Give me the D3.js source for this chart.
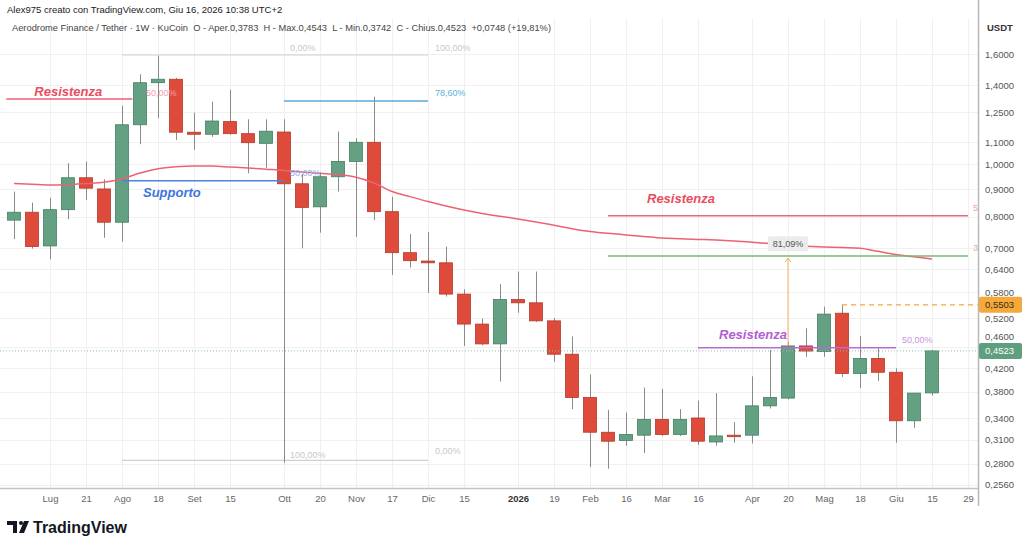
<!DOCTYPE html>
<html>
<head>
<meta charset="utf-8">
<script src="https://cdn.jsdelivr.net/npm/d3@7"></script>
<style>
body{margin:0;background:#fff;font-family:"Liberation Sans",Arial,sans-serif}
</style>
</head>
<body>
<div id="chart"></div>
<script>
// weekly candles AERO/USDT (KuCoin)
const weeks = ["2025-06-23","2025-06-30","2025-07-07","2025-07-14","2025-07-21","2025-07-28","2025-08-04","2025-08-11","2025-08-18","2025-08-25",
	"2025-09-01","2025-09-08","2025-09-15","2025-09-22","2025-09-29","2025-10-06","2025-10-13","2025-10-20","2025-10-27","2025-11-03",
	"2025-11-10","2025-11-17","2025-11-24","2025-12-01","2025-12-08","2025-12-15","2025-12-22","2025-12-29","2026-01-05","2026-01-12",
	"2026-01-19","2026-01-26","2026-02-02","2026-02-09","2026-02-16","2026-02-23","2026-03-02","2026-03-09","2026-03-16","2026-03-23",
	"2026-03-30","2026-04-06","2026-04-13","2026-04-20","2026-04-27","2026-05-04","2026-05-11","2026-05-18","2026-05-25","2026-06-01",
	"2026-06-08","2026-06-15"]
const open  = [0.789,0.816,0.707,0.825,0.945,0.901,0.782,1.184,1.416,1.437,1.147,1.137,1.200,1.140,1.094,1.148,0.921,0.835,0.949,1.013,
	1.099,0.818,0.687,0.663,0.658,0.576,0.507,0.466,0.563,0.555,0.514,0.446,0.371,0.320,0.309,0.316,0.338,0.317,0.340,0.307,
	0.316,0.316,0.358,0.370,0.462,0.451,0.531,0.411,0.438,0.413,0.336,0.3783]
const high  = [0.891,0.850,0.868,1.005,1.012,0.939,1.284,1.468,1.588,1.445,1.246,1.306,1.374,1.212,1.212,1.212,0.960,0.966,1.150,1.118,
	1.334,0.872,0.744,0.750,0.705,0.588,0.519,0.601,0.634,0.634,0.520,0.481,0.409,0.352,0.348,0.387,0.385,0.353,0.366,0.378,
	0.334,0.406,0.454,0.470,0.498,0.546,0.5503,0.482,0.459,0.420,0.378,0.4543]
const low   = [0.728,0.699,0.668,0.792,0.860,0.732,0.720,1.090,1.217,1.110,1.064,1.125,1.135,0.963,0.986,0.281,0.700,0.748,0.891,0.735,
	0.789,0.625,0.645,0.579,0.570,0.462,0.463,0.397,0.532,0.512,0.432,0.353,0.276,0.274,0.302,0.293,0.315,0.315,0.303,0.302,
	0.306,0.305,0.354,0.368,0.441,0.441,0.405,0.386,0.398,0.306,0.326,0.3742]
const close = [0.816,0.705,0.825,0.945,0.904,0.782,1.184,1.416,1.437,1.147,1.137,1.203,1.140,1.097,1.152,0.921,0.833,0.949,1.013,1.099,
	0.818,0.687,0.664,0.658,0.576,0.507,0.466,0.563,0.555,0.514,0.446,0.371,0.320,0.308,0.317,0.338,0.317,0.338,0.308,0.315,
	0.315,0.358,0.371,0.462,0.452,0.529,0.411,0.438,0.413,0.336,0.378,0.4523]
// moving average (red line)
const ma = [0.922,0.919,0.916,0.918,0.922,0.927,0.940,0.964,0.982,0.990,0.993,0.993,0.989,0.985,0.980,0.975,0.968,0.963,0.958,0.947,
	0.924,0.891,0.872,0.854,0.838,0.824,0.812,0.802,0.793,0.783,0.772,0.761,0.752,0.746,0.741,0.736,0.731,0.729,0.727,0.725,
	0.722,0.718,0.714,0.710,0.706,0.704,0.702,0.700,0.691,0.682,0.675,0.669]

const yTicks = [1.6,1.4,1.25,1.1,1.0,0.9,0.8,0.7,0.64,0.58,0.52,0.46,0.42,0.38,0.34,0.31,0.28,0.256]
const xTickDates = ["2025-07-07","2025-07-21","2025-08-04","2025-08-18","2025-09-01","2025-09-15","2025-10-06","2025-10-20","2025-11-03","2025-11-17",
	"2025-12-01","2025-12-15","2026-01-05","2026-01-19","2026-02-02","2026-02-16","2026-03-02","2026-03-16","2026-04-06","2026-04-20",
	"2026-05-04","2026-05-18","2026-06-01","2026-06-15","2026-06-29"]
const xTickLabels = ["Lug","21","Ago","18","Set","15","Ott","20","Nov","17","Dic","15","2026","19","Feb","16","Mar","16","Apr","20","Mag","18","Giu","15","29"]

const lastPrice = 0.4523
const markPrice = 0.5503

const parse = d3.utcParse("%Y-%m-%d")
const fmt = v => d3.format(".4f")(v).replace(".", ",")

const svgWidth = 1024, svgHeight = 546
const plotRight = 978, plotTop = 18, plotBottom = 488

const svg = d3.select("#chart").append("svg")
	.attr("width", svgWidth)
	.attr("height", svgHeight)
	.style("display", "block")

svg.append("rect").attr("width", svgWidth).attr("height", svgHeight).attr("fill", "#fff")

const x = d3.scaleUtc()
	.domain([parse("2025-06-23"), parse("2026-06-29")])
	.range([14, 968])
const y = d3.scaleLog()
	.domain([0.2524, 1.8648])
	.range([plotBottom, plotTop])

svg.append("clipPath").attr("id", "plot")
	.append("rect").attr("x", 0).attr("y", plotTop).attr("width", plotRight).attr("height", plotBottom - plotTop)

// grid
const grid = svg.append("g")
grid.selectAll("line.h").data(yTicks).enter().append("line")
	.attr("x1", 0).attr("x2", plotRight)
	.attr("y1", d => Math.round(y(d)) + 0.5).attr("y2", d => Math.round(y(d)) + 0.5)
	.attr("stroke", "#f0f0f0")
grid.selectAll("line.v").data(xTickDates).enter().append("line")
	.attr("x1", d => Math.round(x(parse(d))) + 0.5).attr("x2", d => Math.round(x(parse(d))) + 0.5)
	.attr("y1", plotTop).attr("y2", plotBottom)
	.attr("stroke", "#f0f0f0")

const g = svg.append("g").attr("clip-path", "url(#plot)")

// helper for annotation lines
function hline(d0, d1, v, color, width, dash){
	const l = g.append("line")
		.attr("x1", x(parse(d0))).attr("x2", x(parse(d1)))
		.attr("y1", y(v)).attr("y2", y(v))
		.attr("stroke", color).attr("stroke-width", width || 1.5)
	if (dash) l.attr("stroke-dasharray", dash)
	return l
}
function label(xp, yp, txt, color, size, weight, style, anchor){
	return svg.append("text")
		.attr("x", xp).attr("y", yp)
		.attr("fill", color)
		.attr("font-size", size + "px")
		.attr("font-weight", weight || "normal")
		.attr("font-style", style || "normal")
		.attr("text-anchor", anchor || "start")
		.text(txt)
}

// fibonacci drawings
hline("2025-08-04", "2025-12-01", 1.593, "#d0d0d0", 1.2)
hline("2025-08-04", "2025-12-01", 0.284, "#d0d0d0", 1.2)
label(x(parse("2025-10-06")) + 6, y(1.593) - 4, "0,00%", "#c8c8c8", 9)
label(x(parse("2025-12-01")) + 7, y(1.593) - 4, "100,00%", "#c8c8c8", 9)
label(x(parse("2025-10-06")) + 6, y(0.284) - 2, "100,00%", "#c8c8c8", 9)
label(x(parse("2025-12-01")) + 7, y(0.284) - 6, "0,00%", "#c8c8c8", 9)

// candles
const candles = weeks.map((w, i) => ({date: parse(w), o: open[i], h: high[i], l: low[i], c: close[i]}))
const bw = 14
let cg = g.selectAll("g.candle").data(candles).enter().append("g")
cg.append("line")
	.attr("x1", d => Math.round(x(d.date)) + 0.5).attr("x2", d => Math.round(x(d.date)) + 0.5)
	.attr("y1", d => y(d.h)).attr("y2", d => y(d.l))
	.attr("stroke", "#8a8a8a").attr("stroke-width", 1)
cg.append("rect")
	.attr("x", d => Math.round(x(d.date)) - bw/2 + 0.5)
	.attr("y", d => y(Math.max(d.o, d.c)))
	.attr("width", bw - 1)
	.attr("height", d => Math.max(1.5, Math.abs(y(d.o) - y(d.c))))
	.attr("fill", d => d.c >= d.o ? "#64a183" : "#df4b3b")
	.attr("stroke", d => d.c >= d.o ? "#467f63" : "#b43a2c")
	.attr("stroke-width", 0.8)

// moving average
g.append("path")
	.datum(weeks)
	.attr("fill", "none")
	.attr("stroke", "#ee6270")
	.attr("stroke-width", 1.5)
	.attr("d", d3.line().curve(d3.curveMonotoneX)
		.x(d => x(parse(d)))
		.y((d, i) => y(ma[i])))

// support / resistance drawings
hline("2025-06-20", "2025-08-08", 1.321, "#ef6170", 1.5)
label(x(parse("2025-06-20")) + 28, y(1.321) - 3, "Resistenza", "#ec4d5e", 13, "bold", "italic")
label(x(parse("2025-08-04")) + 24, y(1.321) - 3, "50,00%", "#f2a0a8", 9)

hline("2025-08-04", "2025-10-06", 0.933, "#4a82e0", 1.5)
label(x(parse("2025-08-04")) + 21, y(0.933) + 16, "Supporto", "#3a76df", 13, "bold", "italic")
label(x(parse("2025-10-06")) + 6, y(0.933) - 5, "50,00%", "#93aef0", 9)

hline("2025-10-06", "2025-12-01", 1.31, "#5aa6dd", 1.5)
label(x(parse("2025-12-01")) + 7, y(1.31) - 5, "78,60%", "#5ab0e0", 9)

hline("2026-02-09", "2026-06-29", 0.804, "#ec6a78", 1.5)
label(x(parse("2026-02-09")) + 39, y(0.804) - 13, "Resistenza", "#ec4d5e", 13, "bold", "italic")
label(973, y(0.804) - 5, "5", "#f0a0a8", 9)

hline("2026-02-09", "2026-06-29", 0.677, "#74bb74", 1.5)
label(973, y(0.677) - 5, "3", "#bbbbbb", 9)

hline("2026-03-16", "2026-06-01", 0.4586, "#b96ad6", 1.5)
label(x(parse("2026-03-16")) + 21, y(0.4586) - 9, "Resistenza", "#b35ed2", 13, "bold", "italic")
label(x(parse("2026-06-01")) + 6, y(0.4586) - 5, "50,00%", "#c895e0", 9)

// price range measure
const mx = x(parse("2026-04-20"))
g.append("line").attr("x1", mx).attr("x2", mx).attr("y1", y(0.671)).attr("y2", y(0.462))
	.attr("stroke", "#f5b060").attr("stroke-width", 1)
g.append("path")
	.attr("d", `M${mx - 3},${y(0.671) + 4}L${mx},${y(0.671)}L${mx + 3},${y(0.671) + 4}`)
	.attr("fill", "none").attr("stroke", "#f5b060").attr("stroke-width", 1)
svg.append("rect").attr("x", mx - 20).attr("y", y(0.671) - 22).attr("width", 40).attr("height", 15)
	.attr("rx", 2).attr("fill", "#ececec")
label(mx, y(0.671) - 11, "81,09%", "#555", 9, "normal", "normal", "middle")

// orange dashed level
g.append("line")
	.attr("x1", x(parse("2026-05-11"))).attr("x2", plotRight)
	.attr("y1", y(markPrice)).attr("y2", y(markPrice))
	.attr("stroke", "#f5a53a").attr("stroke-width", 1.3).attr("stroke-dasharray", "5,4")

// last price dotted line
g.append("line")
	.attr("x1", 0).attr("x2", plotRight)
	.attr("y1", y(lastPrice)).attr("y2", y(lastPrice))
	.attr("stroke", "#8fbfa8").attr("stroke-width", 1).attr("stroke-dasharray", "1,2")

// axes
svg.append("line").attr("x1", 0).attr("x2", plotRight).attr("y1", plotBottom + 0.5).attr("y2", plotBottom + 0.5)
	.attr("stroke", "#c4c4c4").attr("stroke-width", 1.5)
svg.append("line").attr("x1", plotRight + 0.5).attr("x2", plotRight + 0.5).attr("y1", 0).attr("y2", 506)
	.attr("stroke", "#b8b8b8").attr("stroke-width", 1.5)

const yAxis = svg.append("g")
	.attr("transform", "translate(" + plotRight + ",0)")
	.call(d3.axisRight(y).tickValues(yTicks).tickFormat(fmt).tickSize(0).tickPadding(7))
yAxis.select(".domain").remove()
yAxis.selectAll("text").attr("fill", "#555").attr("font-size", "9.5px").attr("font-family", "Liberation Sans, Arial, sans-serif")
// the 0,4600 label sits just above the last-price badge
yAxis.selectAll(".tick").filter(d => d === 0.46).select("text").attr("dy", "-0.75em")

const xAxis = svg.append("g")
	.attr("transform", "translate(0," + plotBottom + ")")
	.call(d3.axisBottom(x).tickValues(xTickDates.map(parse)).tickFormat((d, i) => xTickLabels[i]).tickSize(0).tickPadding(7))
xAxis.select(".domain").remove()
xAxis.selectAll("text").attr("fill", "#666").attr("font-size", "9.5px").attr("font-family", "Liberation Sans, Arial, sans-serif")
	.attr("font-weight", (d, i) => xTickLabels[i] === "2026" ? "bold" : "normal")
	.attr("fill", (d, i) => xTickLabels[i] === "2026" ? "#333" : "#666")

label(987, 31, "USDT", "#333", 9.5, "bold")

// price badges
function badge(v, bg, fg){
	svg.append("rect").attr("x", plotRight + 1).attr("y", y(v) - 8).attr("width", 43).attr("height", 16)
		.attr("rx", 2).attr("fill", bg)
	label(plotRight + 7, y(v) + 3.5, fmt(v), fg, 9.5)
}
badge(markPrice, "#f6a93b", "#3a2a10")
badge(lastPrice, "#5f9e7e", "#ffffff")

// header
label(7, 13, "Alex975 creato con TradingView.com, Giu 16, 2026 10:38 UTC+2", "#1a1a1a", 9.5)
label(12, 31, "Aerodrome Finance / Tether · 1W · KuCoin  O - Aper.0,3783  H - Max.0,4543  L - Min.0,3742  C - Chius.0,4523  +0,0748 (+19,81%)", "#444", 9.3)
	.attr("xml:space", "preserve").style("white-space", "pre")

// footer logo
const logo = svg.append("g").attr("fill", "#131722")
logo.append("path").attr("d", "M7,521h10v12h-4v-8h-6z")
logo.append("circle").attr("cx", 21).attr("cy", 523).attr("r", 2)
logo.append("path").attr("d", "M24,521h5l-5,12h-5z")
label(33, 533, "TradingView", "#131722", 16, "bold")
</script>
</body>
</html>
